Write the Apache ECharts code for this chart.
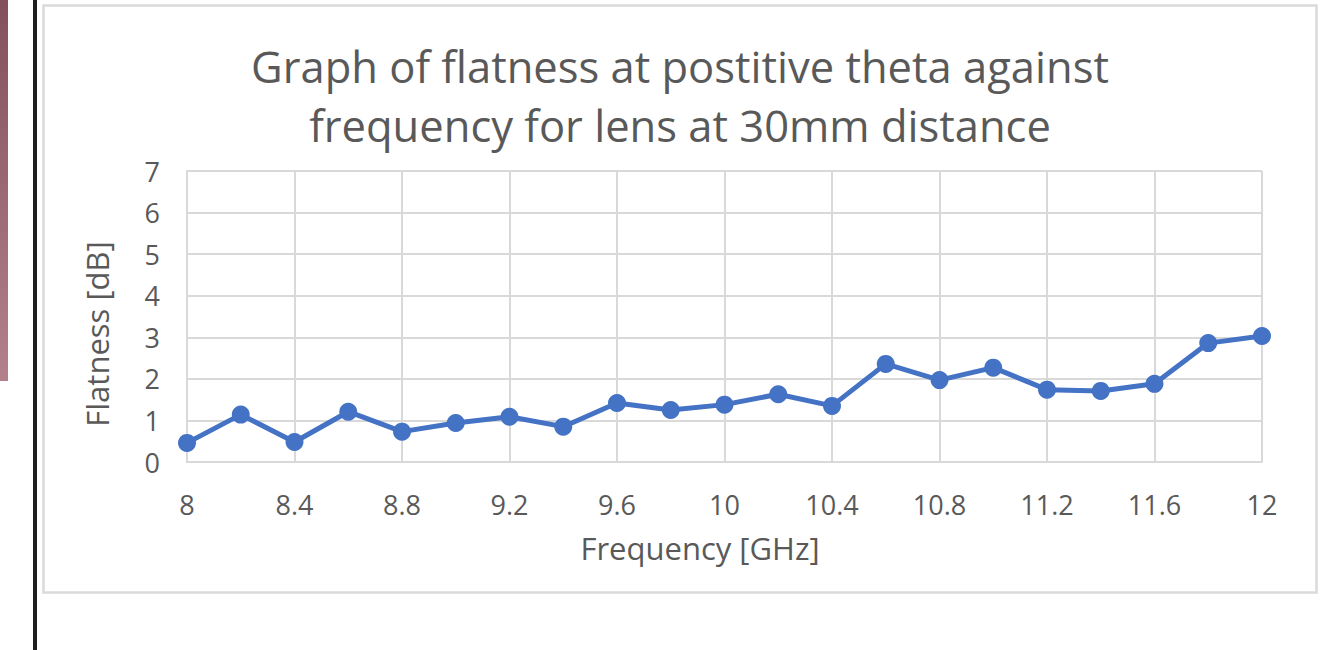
<!DOCTYPE html>
<html>
<head>
<meta charset="utf-8">
<title>Flatness vs frequency</title>
<script src="https://cdn.jsdelivr.net/npm/echarts@6/dist/echarts.min.js"></script>
<style>
  html, body { margin: 0; padding: 0; background: #ffffff; }
  #chart { width: 1342px; height: 650px; }
</style>
</head>
<body>
<div id="chart"></div>
<script>
// Frequency sweep (GHz) and measured flatness (dB) at positive theta
const frequencyGHz = [8, 8.2, 8.4, 8.6, 8.8, 9, 9.2, 9.4, 9.6, 9.8, 10,
                      10.2, 10.4, 10.6, 10.8, 11, 11.2, 11.4, 11.6, 11.8, 12];
const flatnessDb = [0.46, 1.14, 0.48, 1.21, 0.73, 0.94, 1.09, 0.85, 1.42, 1.25, 1.38,
                    1.63, 1.35, 2.36, 1.97, 2.27, 1.74, 1.71, 1.88, 2.86, 3.03];

const titleLines = ['Graph of flatness at postitive theta against',
                    'frequency for lens at 30mm distance'];
const xAxisTitle = 'Frequency [GHz]';
const yAxisTitle = 'Flatness [dB]';

const FONT = '"Open Sans", Lato, sans-serif';
const TEXT_GREY = '#595959';
const GRID_GREY = '#d9d9d9';
const LINE_BLUE = '#4472C4';

const chart = echarts.init(document.getElementById('chart'), null, { renderer: 'svg' });

chart.setOption({
  backgroundColor: '#ffffff',
  animation: false,
  graphic: [
    // slim tinted strip at the far left
    {
      type: 'rect', left: 0, top: 0, z: 0,
      shape: { width: 8, height: 381 },
      style: {
        fill: new echarts.graphic.LinearGradient(0, 0, 0, 1, [
          { offset: 0, color: '#84505c' },
          { offset: 1, color: '#b3808c' }
        ])
      }
    },
    // dark vertical rule
    {
      type: 'rect', left: 33, top: 0, z: 0,
      shape: { width: 4, height: 650 },
      style: { fill: '#1e1e1e' }
    },
    // chart frame
    {
      type: 'rect', z: 0,
      shape: { x: 43.5, y: 5.5, width: 1273, height: 587 },
      style: { fill: '#ffffff', stroke: '#dadada', lineWidth: 2.5 }
    },
    // title, two centred lines
    {
      type: 'text', z: 10,
      style: {
        x: 680, y: 66, text: titleLines[0],
        font: '400 43.5px ' + FONT, fill: TEXT_GREY,
        align: 'center', verticalAlign: 'middle'
      }
    },
    {
      type: 'text', z: 10,
      style: {
        x: 680, y: 125, text: titleLines[1],
        font: '400 43.5px ' + FONT, fill: TEXT_GREY,
        align: 'center', verticalAlign: 'middle'
      }
    },
    // axis titles
    {
      type: 'text', z: 10,
      style: {
        x: 700, y: 548, text: xAxisTitle,
        font: '400 31px ' + FONT, fill: TEXT_GREY,
        align: 'center', verticalAlign: 'middle'
      }
    },
    {
      type: 'text', z: 10,
      x: 97, y: 334, rotation: Math.PI / 2,
      style: {
        x: 0, y: 0, text: yAxisTitle,
        font: '400 31px ' + FONT, fill: TEXT_GREY,
        align: 'center', verticalAlign: 'middle'
      }
    }
  ],
  grid: {
    left: 187, right: 80, top: 171, bottom: 188,
    containLabel: false
  },
  xAxis: {
    type: 'value',
    min: 8, max: 12, interval: 0.4,
    axisLine: { show: true, lineStyle: { color: GRID_GREY, width: 2 } },
    axisTick: { show: false },
    splitLine: { show: true, lineStyle: { color: GRID_GREY, width: 2 } },
    axisLabel: {
      color: TEXT_GREY, fontFamily: FONT, fontSize: 27, margin: 29,
      formatter: v => String(Math.round(v * 10) / 10)
    }
  },
  yAxis: {
    type: 'value',
    min: 0, max: 7, interval: 1,
    axisLine: { show: true, lineStyle: { color: GRID_GREY, width: 2 } },
    axisTick: { show: false },
    splitLine: { show: true, lineStyle: { color: GRID_GREY, width: 2 } },
    axisLabel: {
      color: TEXT_GREY, fontFamily: FONT, fontSize: 27, margin: 27
    }
  },
  series: [{
    type: 'line',
    data: frequencyGHz.map((f, i) => [f, flatnessDb[i]]),
    symbol: 'circle',
    symbolSize: 18,
    lineStyle: { color: LINE_BLUE, width: 5 },
    itemStyle: { color: LINE_BLUE },
    z: 5
  }]
});
</script>
</body>
</html>
